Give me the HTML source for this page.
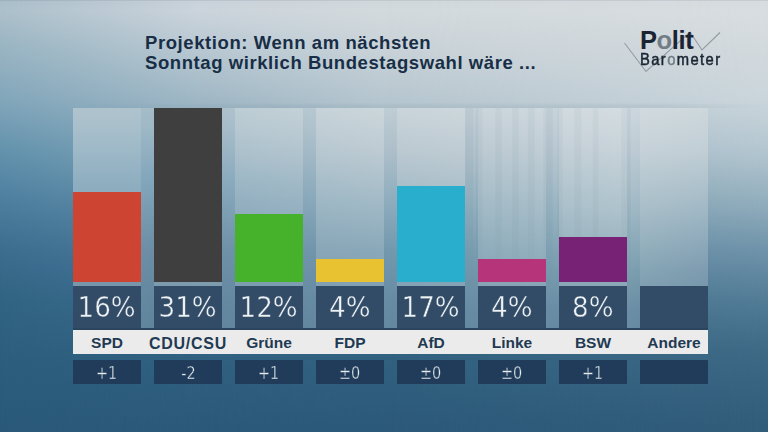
<!DOCTYPE html>
<html lang="de">
<head>
<meta charset="utf-8">
<title>Politbarometer Projektion</title>
<style>
*{margin:0;padding:0;box-sizing:border-box}
html,body{width:768px;height:432px;overflow:hidden;background:#2c5a7b}
body{position:relative;font-family:"Liberation Sans",Arial,sans-serif}
.lay{position:absolute;left:0;top:0;width:768px;height:432px}
#b0{background:linear-gradient(to bottom,#a9bdc9 0px,#adc0cb 10px,#98b4c2 50px,#82a6bb 100px,#6393ad 150px,#4d7f9f 200px,#3d6d8f 250px,#316483 300px,#2d5e7e 360px,#2a5a7b 420px,#2a5979 432px)}
#b1{background:linear-gradient(to bottom,#c8d1d9 0px,#ccd4dc 10px,#b8c8d2 50px,#a2b9c6 95px,#9bb4c3 108px,#7ea2b7 160px,#5f8ba6 210px,#44739a 270px,#386889 320px,#30607f 365px,#2c5a7b 420px,#2b5979 432px);
 -webkit-mask-image:linear-gradient(to right,transparent 0px,#000 200px);mask-image:linear-gradient(to right,transparent 0px,#000 200px)}
#b2{background:linear-gradient(to bottom,#d0d7db 0px,#d3dadd 10px,#c8d2d8 50px,#b8c7d0 95px,#b3c4ce 108px,#9ab3c3 150px,#7c9db2 200px,#5e86a0 250px,#44708e 300px,#31617f 360px,#2d5a7b 420px,#2c597a 432px);
 -webkit-mask-image:linear-gradient(to right,transparent 200px,#000 384px);mask-image:linear-gradient(to right,transparent 200px,#000 384px)}
#b3{background:linear-gradient(to bottom,#d6dbde 0px,#d8dde0 10px,#d2d9dd 50px,#cad5db 100px,#b4c6d0 150px,#93afbd 200px,#6f93aa 250px,#527c96 300px,#3e6a86 350px,#3a6683 370px,#325e7b 420px,#315d7a 432px);
 -webkit-mask-image:linear-gradient(to right,transparent 384px,#000 768px);mask-image:linear-gradient(to right,transparent 384px,#000 768px)}

.pl{position:absolute;left:73px;top:108px;width:635px;height:220px}
#k0{background:linear-gradient(to bottom,#a5bcc8 0px,#9fb9c7 17px,#82a6bb 72px,#6d8ea6 142px,#63889f 192px,#60859c 222px)}
#k1{background:linear-gradient(to bottom,#bfcdd5 0px,#bccbd3 7px,#aebfca 42px,#8fadbd 92px,#7399ae 142px,#668ba3 197px,#63889f 222px);
 -webkit-mask-image:linear-gradient(to right,transparent 74px,#000 317px);mask-image:linear-gradient(to right,transparent 74px,#000 317px)}
#k2{background:linear-gradient(to bottom,#ccd7dd 0px,#cad5dc 7px,#bdcbd4 42px,#9fb8c4 102px,#7c9fb0 162px,#6b8ea5 202px,#688ba2 222px);
 -webkit-mask-image:linear-gradient(to right,transparent 317px,#000 560px);mask-image:linear-gradient(to right,transparent 317px,#000 560px)}
#k3{background:linear-gradient(to bottom,#c6d2d8 0px,#c4d0d7 7px,#b7c7d0 42px,#8fabbc 112px,#7192a9 162px,#62879f 202px,#5f849c 222px);
 -webkit-mask-image:linear-gradient(to right,transparent 560px,#000 635px);mask-image:linear-gradient(to right,transparent 560px,#000 635px)}

.title{position:absolute;left:145px;top:33.2px;font-weight:bold;font-size:18.5px;line-height:19.6px;color:#182e46;letter-spacing:0.58px;white-space:nowrap}
.logo{position:absolute;left:620px;top:24px;width:110px;height:54px}
.logo .p{position:absolute;left:20px;top:1px;font-weight:bold;font-size:25.5px;line-height:30px;color:#1a2433;letter-spacing:-0.4px}
.logo .b{position:absolute;left:19.5px;top:25.5px;font-size:16.4px;line-height:18px;color:#1a2433;letter-spacing:1.55px;-webkit-text-stroke:0.5px #1a2433;transform:scaleX(0.9);transform-origin:0 0;white-space:nowrap}
.logo .g{color:#737d86;-webkit-text-stroke-color:#737d86}
.logo svg{position:absolute;left:0;top:0}

.col{position:absolute;top:108px;width:68px;height:178px;background:rgba(255,255,255,0.12)}
.bar{position:absolute;left:0;width:68px;bottom:4px}
.pct{position:absolute;top:286px;width:68px;height:42px;background:#324c67;color:#eef2f5;font-family:"DejaVu Sans","Liberation Sans",sans-serif;font-size:27.5px;line-height:42px;text-align:center;-webkit-text-stroke:0.45px #324c67}
.pct span{display:inline-block;transform:scaleX(0.95)}
.strip{position:absolute;left:73px;top:328px;width:635px;height:26px;background:#ebebeb;border-top:2px solid #2a4560}
.lab{position:absolute;top:330px;width:68px;height:24px;line-height:26px;text-align:center;font-weight:bold;font-size:15.5px;color:#1f3a52;white-space:nowrap}
.lab span{display:inline-block;margin:0 -20px}
.chg{position:absolute;top:360px;width:68px;height:24px;background:#213c5a;color:#e6ecf0;font-family:"DejaVu Sans","Liberation Sans",sans-serif;font-size:17px;line-height:27px;text-align:center;-webkit-text-stroke:0.4px #213c5a}
.chg span{display:inline-block;transform:scaleX(0.85)}
</style>
</head>
<body>
<div class="lay" id="b0"></div>
<div class="lay" id="b1"></div>
<div class="lay" id="b2"></div>
<div class="lay" id="b3"></div>
<div style="position:absolute;left:0;top:0;width:768px;height:1px;background:rgba(40,60,75,0.09)"></div>

<div class="pl" id="k0"></div>
<div class="pl" id="k1"></div>
<div class="pl" id="k2"></div>
<div class="pl" id="k3"></div>

<div style="position:absolute;left:440px;top:108px;width:220px;height:178px;background:linear-gradient(to right,transparent 24.5px,rgba(50,85,110,0.05) 26.0px,rgba(50,85,110,0.05) 32.5px,transparent 34.0px,transparent 35.0px,rgba(50,85,110,0.05) 36.5px,rgba(50,85,110,0.05) 41.7px,transparent 43.2px,transparent 54.5px,rgba(50,85,110,0.05) 56.0px,rgba(50,85,110,0.05) 61.0px,transparent 62.5px,transparent 71.5px,rgba(50,85,110,0.05) 73.0px,rgba(50,85,110,0.05) 78.0px,transparent 79.5px,transparent 87.0px,rgba(50,85,110,0.05) 88.5px,rgba(50,85,110,0.05) 94.0px,transparent 95.5px,transparent 102.5px,rgba(50,85,110,0.05) 104.0px,rgba(50,85,110,0.05) 112.0px,transparent 113.5px,transparent 117.0px,rgba(50,85,110,0.05) 118.5px,rgba(50,85,110,0.05) 122.0px,transparent 123.5px,transparent 133.5px,rgba(50,85,110,0.05) 135.0px,rgba(50,85,110,0.05) 140.6px,transparent 142.1px,transparent 152.1px,rgba(50,85,110,0.05) 153.6px,rgba(50,85,110,0.05) 157.5px,transparent 159.0px,transparent 180.5px,rgba(50,85,110,0.05) 182.0px,rgba(50,85,110,0.05) 190.0px,transparent 191.5px);-webkit-mask-image:linear-gradient(to bottom,#000 0px,#000 110px,transparent 178px);mask-image:linear-gradient(to bottom,#000 0px,#000 110px,transparent 178px)"></div>
<div style="position:absolute;left:73px;top:103px;width:695px;height:5px;background:linear-gradient(to bottom,rgba(60,95,120,0) 0px,rgba(60,95,120,0.07) 3px,rgba(60,95,120,0.07) 5px);-webkit-mask-image:linear-gradient(to right,transparent 0px,#000 200px,#000 600px,transparent 695px);mask-image:linear-gradient(to right,transparent 0px,#000 200px,#000 600px,transparent 695px)"></div>
<div class="title">Projektion: Wenn am nächsten<br>Sonntag wirklich Bundestagswahl wäre ...</div>

<div class="logo">
<svg width="110" height="54" viewBox="620 24 110 54"><path d="M624.5,43 L646,71.5 L690,32 L702,50 L720,32.5" fill="none" stroke="#939ca3" stroke-width="1.1"/></svg>
<div class="p">P<span class="g">o</span>lit</div>
<div class="b">Bar<span class="g">o</span>meter</div>
</div>

<div class="col" style="left:73px;background:linear-gradient(to bottom,rgba(255,250,244,0.11) 0px,rgba(255,250,244,0.11) 178px)"><div class="bar" style="height:90px;background:#cd4433"></div></div>
<div class="col" style="left:154px;background:linear-gradient(to bottom,rgba(255,250,244,0.15) 0px,rgba(255,250,244,0.15) 178px)"><div class="bar" style="height:174px;background:#3f3f3f"></div></div>
<div class="col" style="left:235px;background:linear-gradient(to bottom,rgba(255,250,244,0.19) 0px,rgba(255,250,244,0.145) 92px,rgba(255,250,244,0.14) 178px)"><div class="bar" style="height:68px;background:#46b22b"></div></div>
<div class="col" style="left:316px;background:linear-gradient(to bottom,rgba(255,250,244,0.21) 0px,rgba(255,250,244,0.205) 42px,rgba(255,250,244,0.165) 142px,rgba(255,250,244,0.16) 178px)"><div class="bar" style="height:23px;background:#e9c232"></div></div>
<div class="col" style="left:397px;background:linear-gradient(to bottom,rgba(255,250,244,0.17) 0px,rgba(255,250,244,0.17) 178px)"><div class="bar" style="height:96px;background:#2aaecd"></div></div>
<div class="col" style="left:478px;background:linear-gradient(to bottom,rgba(255,250,244,0.12) 0px,rgba(255,250,244,0.12) 42px,rgba(255,250,244,0.158) 142px,rgba(255,250,244,0.16) 178px)"><div class="bar" style="height:23px;background:#b6347a"></div></div>
<div class="col" style="left:559px;background:linear-gradient(to bottom,rgba(255,250,244,0.16) 0px,rgba(255,250,244,0.16) 178px)"><div class="bar" style="height:45px;background:#772274"></div></div>
<div class="col" style="left:640px;background:linear-gradient(to bottom,rgba(255,250,244,0.12) 0px,rgba(255,250,244,0.14) 42px,rgba(255,250,244,0.1) 112px,rgba(255,250,244,0.09) 162px,rgba(255,250,244,0.09) 178px)"></div>

<div class="pct" style="left:73px"><span>16%</span></div>
<div class="pct" style="left:154px"><span>31%</span></div>
<div class="pct" style="left:235px"><span>12%</span></div>
<div class="pct" style="left:316px"><span>4%</span></div>
<div class="pct" style="left:397px"><span>17%</span></div>
<div class="pct" style="left:478px"><span>4%</span></div>
<div class="pct" style="left:559px"><span>8%</span></div>
<div class="pct" style="left:640px"></div>

<div class="strip"></div>
<div class="lab" style="left:73px"><span>SPD</span></div>
<div class="lab" style="left:154px"><span style="letter-spacing:0.75px;font-size:16px;position:relative;top:0.5px">CDU/CSU</span></div>
<div class="lab" style="left:235px"><span>Grüne</span></div>
<div class="lab" style="left:316px"><span>FDP</span></div>
<div class="lab" style="left:397px"><span>AfD</span></div>
<div class="lab" style="left:478px"><span>Linke</span></div>
<div class="lab" style="left:559px"><span>BSW</span></div>
<div class="lab" style="left:640px"><span>Andere</span></div>

<div class="chg" style="left:73px"><span>+1</span></div>
<div class="chg" style="left:154px"><span>-2</span></div>
<div class="chg" style="left:235px"><span>+1</span></div>
<div class="chg" style="left:316px"><span>±0</span></div>
<div class="chg" style="left:397px"><span>±0</span></div>
<div class="chg" style="left:478px"><span>±0</span></div>
<div class="chg" style="left:559px"><span>+1</span></div>
<div class="chg" style="left:640px"></div>
</body>
</html>
